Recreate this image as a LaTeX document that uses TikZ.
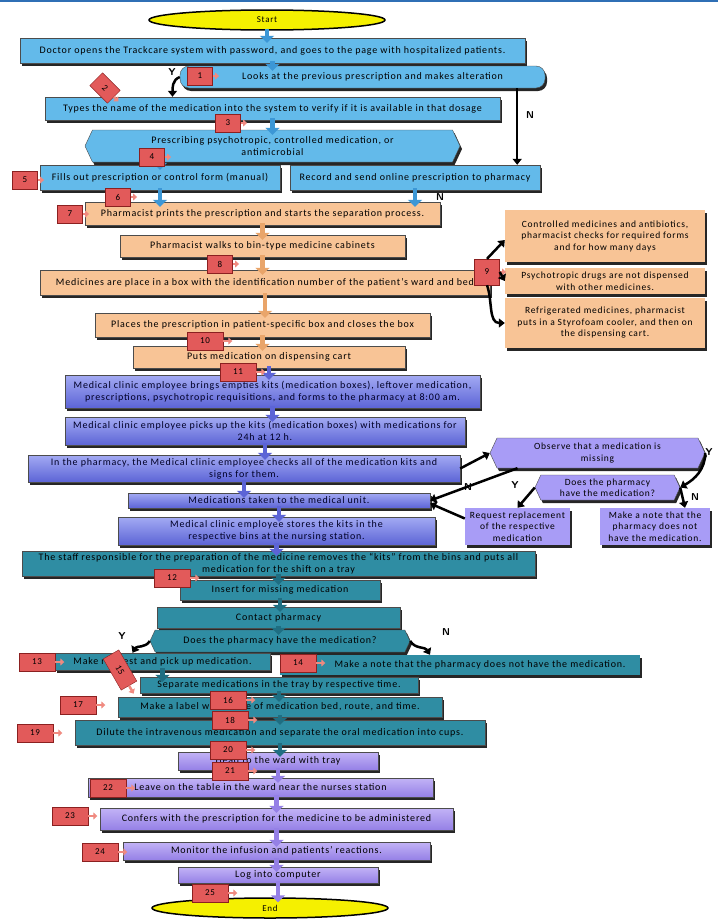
\documentclass[tikz,border=0pt]{standalone}
\usepackage{fontspec}
\setmainfont{Carlito}[LetterSpace=8]
\usepackage{xcolor}
\usetikzlibrary{arrows.meta,calc,shapes.geometric,shapes.symbols,shadows}
\definecolor{topblue}{HTML}{2F6FB5}
\definecolor{sky}{HTML}{63BAEA}
\definecolor{skyd}{HTML}{3C97D6}
\definecolor{peach}{HTML}{F8C496}
\definecolor{peachd}{HTML}{E9A56A}
\definecolor{pwlight}{HTML}{A3AAF3}
\definecolor{pwdark}{HTML}{5C64D6}
\definecolor{lav}{HTML}{A89CF6}
\definecolor{tealbox}{HTML}{2F8DA3}
\definecolor{teald}{HTML}{1F6E82}
\definecolor{purplight}{HTML}{C2B3F6}
\definecolor{purpdark}{HTML}{9580E6}
\definecolor{badgered}{HTML}{E25A5A}
\definecolor{badgedark}{HTML}{8B2020}
\definecolor{tabred}{HTML}{F08A80}
\definecolor{termyellow}{HTML}{F5F000}
\newcommand\boxfont{\fontsize{10}{12}\selectfont}
\newcommand\sidefont{\fontsize{9.5}{11.5}\selectfont}
\newcommand\badgefont{\fontsize{9}{11}\selectfont}
\tikzset{
  box/.style={draw=black!70,align=center,font=\boxfont,inner sep=2pt,
              drop shadow={shadow xshift=2pt,shadow yshift=-3pt,fill=black,opacity=.85}},
  bbox/.style={box,fill=sky},
  obox/.style={box,fill=peach},
  pbox/.style={box,top color=pwlight,bottom color=pwdark,text=black!85!blue},
  lbox/.style={box,fill=lav,font=\sidefont},
  tbox/.style={box,fill=tealbox},
  ubox/.style={box,top color=purplight,bottom color=purpdark},
  hex/.style={signal,signal to=west and east,signal pointer angle=130},
  term/.style={ellipse,draw=black,line width=1.5pt,fill=termyellow,font=\badgefont,
               minimum width=236,minimum height=20},
  badge/.style={draw=badgedark,fill=badgered,font=\badgefont,minimum width=25,minimum height=18,inner sep=1pt},
  tab/.style={-{Triangle[width=7pt,length=4pt]},line width=2.5pt,tabred},
  flow/.style={line width=4.5pt,-{Triangle[width=14pt,length=7pt]},shorten <=-2pt,shorten >=-5pt},
  barr/.style={-{Triangle[width=9pt,length=6pt]},line width=2.5pt,black},
  yn/.style={font=\sffamily\bfseries\fontsize{10}{12}\selectfont},
}
\begin{document}
\begin{tikzpicture}[x=1pt,y=1pt]
  \useasboundingbox (0,0) rectangle (718,-921);
  \fill[white] (0,0) rectangle (718,-921);
  \draw[line width=1.5pt,topblue] (0,-1) -- (718,-1);

  \node[term] (start) at (267,-20) {Start};
  % doctor / prescription
  \node[bbox,minimum width=505,minimum height=25] (doc) at (272.5,-50.5)
     {Doctor opens the Trackcare system with password, and goes to the page with hospitalized patients.};
  \node[bbox,rounded corners=9pt,minimum width=365,minimum height=22] (look) at (362.5,-77)
     {\hspace*{20pt}Looks at the previous prescription and makes alteration};
  \node[bbox,minimum width=455,minimum height=23] (types) at (272.5,-108.5)
     {Types the name of the medication into the system to verify if it is available in that dosage};
  \node[bbox,hex,minimum width=375,minimum height=32] (presc) at (272.5,-146)
     {Prescribing psychotropic, controlled medication, or\\antimicrobial};
  \node[bbox,minimum width=240,minimum height=25] (fills) at (160,-177.5)
     {Fills out prescription or control form (manual)};
  \node[bbox,minimum width=250,minimum height=25] (record) at (415,-177.5)
     {Record and send online prescription to pharmacy};
  % pharmacy
  \node[obox,minimum width=355,minimum height=23] (prints) at (262.5,-213.5)
     {Pharmacist prints the prescription and starts the separation process.};
  \node[obox,minimum width=285,minimum height=22] (walks) at (262.5,-246)
     {Pharmacist walks to bin-type medicine cabinets};
  \node[obox,minimum width=450,minimum height=25] (medbox) at (265,-282.5)
     {Medicines are place in a box with the identification number of the patient's ward and bed};
  \node[obox,minimum width=335,minimum height=24] (places) at (262.5,-325)
     {Places the prescription in patient-specific box and closes the box};
  \node[obox,minimum width=272,minimum height=22] (puts) at (269,-357)
     {Puts medication on dispensing cart};
  \node[obox,draw=none,font=\sidefont,minimum width=200,minimum height=52] (chk) at (605,-236)
     {Controlled medicines and antibiotics,\\pharmacist checks for required forms\\and for how many days};
  \node[obox,draw=none,font=\sidefont,minimum width=200,minimum height=26] (psy) at (605,-281)
     {Psychotropic drugs are not dispensed\\with other medicines.};
  \node[obox,draw=none,font=\sidefont,minimum width=200,minimum height=50] (frig) at (605,-323)
     {Refrigerated medicines, pharmacist\\puts in a Styrofoam cooler, and then on\\the dispensing cart.};
  % medical clinic employee
  \node[pbox,minimum width=415,minimum height=33] (bring) at (272.5,-391.5)
     {Medical clinic employee brings empties kits (medication boxes), leftover medication,\\
      prescriptions, psychotropic requisitions, and forms to the pharmacy at 8:00 am.};
  \node[pbox,minimum width=400,minimum height=28] (pick) at (265,-431)
     {Medical clinic employee picks up the kits (medication boxes) with medications for\\24h at 12 h.};
  \node[pbox,minimum width=432,minimum height=27] (signs) at (244,-468.5)
     {In the pharmacy, the Medical clinic employee checks all of the medication kits and\\signs for them.};
  \node[pbox,minimum width=302,minimum height=15,inner sep=1pt] (taken) at (279,-500.5)
     {Medications taken to the medical unit.};
  \node[pbox,minimum width=317,minimum height=28] (store) at (276.5,-531)
     {Medical clinic employee stores the kits in the\\respective bins at the nursing station.};
  \node[lbox,hex,minimum width=215,minimum height=30] (observe) at (597.5,-453)
     {Observe that a medication is\\missing};
  \node[lbox,hex,minimum width=145,minimum height=25] (havR) at (607.5,-487.5)
     {Does the pharmacy\\have the medication?};
  \node[lbox,draw=none,minimum width=105,minimum height=37] (repl) at (517.5,-526.5)
     {Request replacement\\of the respective\\medication};
  \node[lbox,draw=none,minimum width=110,minimum height=37] (noteR) at (655,-526.5)
     {Make a note that the\\pharmacy does not\\have the medication.};
  % nursing station
  \node[tbox,minimum width=513,minimum height=25] (tray) at (278.5,-563.5)
     {The staff responsible for the preparation of the medicine removes the ``kits'' from the bins and puts all\\
      medication for the shift on a tray};
  \node[tbox,minimum width=200,minimum height=20] (insert) at (280,-590) {Insert for missing medication};
  \node[tbox,minimum width=243,minimum height=21] (contact) at (278.5,-617.5) {Contact pharmacy};
  \node[tbox,hex,minimum width=260,minimum height=22] (havT) at (280,-641)
     {Does the pharmacy have the medication?};
  \node[tbox,minimum width=215,minimum height=17,inner sep=1pt] (request) at (162.5,-661.5)
     {Make request and pick up medication.};
  \node[tbox,draw=none,minimum width=360,minimum height=20] (noteT) at (460,-665)
     {\hspace*{40pt}Make a note that the pharmacy does not have the medication.};
  \node[tbox,minimum width=278,minimum height=16,inner sep=1pt] (separ) at (279,-685)
     {Separate medications in the tray by respective time.};
  \node[tbox,minimum width=324,minimum height=20] (label) at (280,-707)
     {Make a label with name of medication bed, route, and time.};
  \node[tbox,minimum width=410,minimum height=25] (dilute) at (280,-732.5)
     {Dilute the intravenous medication and separate the oral medication into cups.};
  % ward
  \node[ubox,minimum width=200,minimum height=18] (ward) at (278,-761) {Head to the ward with tray};
  \node[ubox,minimum width=345,minimum height=19] (leave) at (260.5,-787.5)
     {Leave on the table in the ward near the nurses station};
  \node[ubox,minimum width=353,minimum height=22] (confer) at (276.5,-819)
     {Confers with the prescription for the medicine to be administered};
  \node[ubox,minimum width=307,minimum height=18] (monitor) at (276.5,-851)
     {Monitor the infusion and patients' reactions.};
  \node[ubox,minimum width=200,minimum height=16,inner sep=1pt] (login) at (278,-875) {Log into computer};
  \node[term] (end) at (270,-908) {End};

  % block arrows
  \draw[flow,skyd] (start.south) -- (start.south |- doc.north);
  \draw[flow,skyd] (doc.south) -- (doc.south |- look.north);
  \draw[flow,skyd] (types.south) -- (types.south |- presc.north);
  \draw[flow,skyd] (presc.south -| fills) -- (fills.north);
  \draw[flow,skyd] (fills.south) -- (fills.south |- prints.north);
  \draw[flow,skyd] (record.south) -- (record.south |- prints.north);
  \draw[flow,peachd] (prints.south) -- (prints.south |- walks.north);
  \draw[flow,peachd] (walks.south) -- (walks.south |- medbox.north);
  \draw[flow,peachd] (medbox.south) -- (medbox.south |- places.north);
  \draw[flow,peachd] (places.south) -- (places.south |- puts.north);
  \draw[flow,pwdark] (puts.south) -- (puts.south |- bring.north);
  \draw[flow,pwdark] (bring.south) -- (bring.south |- pick.north);
  \draw[flow,pwdark] (pick.south) -- (pick.south |- signs.north);
  \draw[flow,pwdark] (signs.south) -- (signs.south |- taken.north);
  \draw[flow,pwdark] (taken.south) -- (taken.south |- store.north);
  \draw[flow,pwdark] (store.south) -- (store.south |- tray.north);
  \draw[flow,teald] (tray.south) -- (tray.south |- insert.north);
  \draw[flow,teald] (insert.south) -- (insert.south |- contact.north);
  \draw[flow,teald] (contact.south) -- (contact.south |- havT.north);
  \draw[flow,teald] (request.south) -- (request.south |- separ.north);
  \draw[flow,teald] (separ.south) -- (separ.south |- label.north);
  \draw[flow,teald] (label.south) -- (label.south |- dilute.north);
  \draw[flow,teald] (dilute.south) -- (dilute.south |- ward.north);
  \draw[flow,purpdark] (ward.south) -- (ward.south |- leave.north);
  \draw[flow,purpdark] (leave.south -| confer) -- (confer.north);
  \draw[flow,purpdark] (confer.south) -- (confer.south |- monitor.north);
  \draw[flow,purpdark] (monitor.south) -- (monitor.south |- login.north);
  \draw[flow,purpdark] (login.south) -- (login.south |- end.north);

  % decisions
  \draw[barr] (look.west) to[out=200,in=90] ([xshift=-100pt]types.north);
  \draw[barr] ([xshift=-28pt]look.south east) -- ([xshift=-23pt]record.north east);
  \draw[barr] (signs.east) -- (observe.west);
  \draw[barr] ([xshift=-80pt]observe.south) -- (taken.east);
  \draw[barr] (observe.east) to[out=-90,in=30] (havR.east);
  \draw[barr] (havR.west) -- (repl.north);
  \draw[barr] (havR.east) -- ([xshift=30pt]noteR.north);
  \draw[barr] ([yshift=8pt]repl.west) -- ([yshift=-3pt]taken.east);
  \draw[barr] (havT.west) to[out=-120,in=60] ([xshift=-30pt]request.north);
  \draw[barr] (havT.east) to[out=-60,in=120] ([xshift=-30pt]noteT.north);

  \node[yn] (y1) at (172,-72) {Y};
  \node[yn] (n1) at (530,-115) {N};
  \node[yn] (n2) at (440,-197) {N};
  \node[yn] (n3) at (468,-487) {N};
  \node[yn] (y2) at (709,-452) {Y};
  \node[yn] (y3) at (515,-485) {Y};
  \node[yn] (n4) at (695,-497) {N};
  \node[yn] (y4) at (122,-636) {Y};
  \node[yn] (n5) at (446,-632) {N};

  % step numbers
  \node[badge] (b1) at (200,-76) {1};
  \node[badge,rotate=-45] (b2) at (105,-88) {2};
  \node[badge] (b3) at (228,-123) {3};
  \node[badge] (b4) at (152,-157) {4};
  \node[badge] (b5) at (25,-180) {5};
  \node[badge] (b6) at (118,-197) {6};
  \node[badge] (b7) at (70,-214) {7};
  \node[badge] (b8) at (220,-264) {8};
  \node[badge,minimum height=26] (b9) at (487,-272) {9};
  \node[badge,minimum width=36] (b10) at (205,-341) {10};
  \node[badge,minimum width=36] (b11) at (238,-372) {11};
  \node[badge,minimum width=36] (b12) at (172,-578) {12};
  \node[badge,minimum width=36] (b13) at (37,-662) {13};
  \node[badge,minimum width=36] (b14) at (298,-663) {14};
  \node[badge,minimum width=36,rotate=-60] (b15) at (120,-670) {15};
  \node[badge,minimum width=36] (b16) at (228,-700) {16};
  \node[badge,minimum width=36] (b17) at (78,-705) {17};
  \node[badge,minimum width=36] (b18) at (230,-720) {18};
  \node[badge,minimum width=36] (b19) at (35,-733) {19};
  \node[badge,minimum width=36] (b20) at (228,-750) {20};
  \node[badge,minimum width=36] (b21) at (230,-771) {21};
  \node[badge,minimum width=36] (b22) at (108,-788) {22};
  \node[badge,minimum width=36] (b23) at (70,-816) {23};
  \node[badge,minimum width=36] (b24) at (100,-852) {24};
  \node[badge,minimum width=36] (b25) at (210,-893) {25};
  \foreach \b in {1,...,25}
    \draw[tab] (b\b.east) -- ($(b\b.center)!1.5!(b\b.east)$);

  \draw[barr] (b9.north) -- ([yshift=-4pt]chk.west);
  \draw[barr] (b9.east) -- (psy.west);
  \draw[barr] (b9.south) to[out=-70,in=180] (frig.west);
\end{tikzpicture}
\end{document}
